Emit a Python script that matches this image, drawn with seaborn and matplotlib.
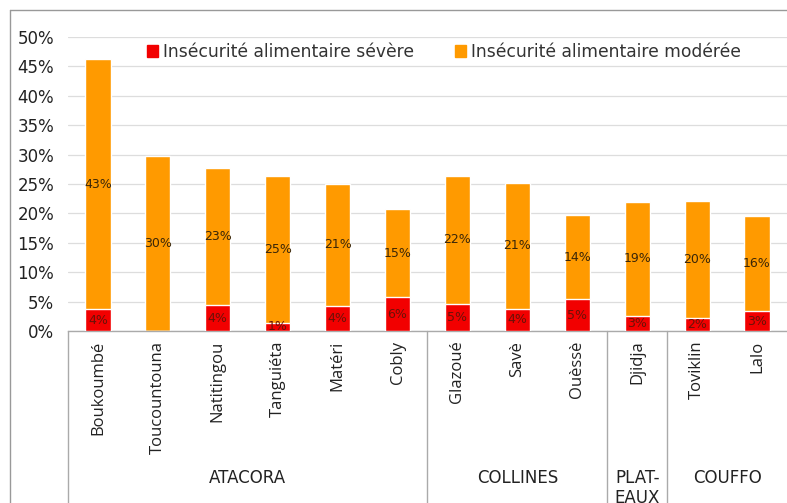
import numpy as np
import pandas as pd
import matplotlib
matplotlib.use("Agg")
import matplotlib.pyplot as plt
from matplotlib.lines import Line2D
import seaborn as sns

communes = ["Boukoumbé", "Toucountouna", "Natitingou", "Tanguiéta", "Matéri", "Cobly",
            "Glazoué", "Savè", "Ouèssè", "Djidja", "Toviklin", "Lalo"]
severe = [3.7, 0.0, 4.4, 1.4, 4.3, 5.7, 4.6, 3.8, 5.4, 2.6, 2.2, 3.4]
moderee = [42.6, 29.8, 23.4, 25.0, 20.7, 15.1, 21.8, 21.4, 14.3, 19.4, 19.9, 16.2]
departements = ["ATACORA", "COLLINES", "PLAT-\nEAUX", "COUFFO"]
dep_tailles = [6, 3, 1, 2]

label_sev = "Insécurité alimentaire sévère"
label_mod = "Insécurité alimentaire modérée"
c_sev = "#F20000"
c_mod = "#FF9A00"

df = pd.DataFrame({"commune": communes, "severe": severe, "moderee": moderee})
df["total"] = df["severe"] + df["moderee"]

sns.set_style("white")
plt.rcParams["font.family"] = ["Open Sans", "DejaVu Sans"]
large = ["DejaVu Sans"]

fig = plt.figure(figsize=(7.87, 5.03), dpi=100)
ax = fig.add_axes([68 / 787, (503 - 331) / 503, (787 - 68) / 787, 294 / 503])

sns.barplot(data=df, x="commune", y="total", color=c_mod, width=0.42,
            saturation=1, ax=ax, label=label_mod, zorder=2)
sns.barplot(data=df, x="commune", y="severe", color=c_sev, width=0.42,
            saturation=1, ax=ax, label=label_sev, zorder=3)

# étiquettes au centre des segments
for i, row in df.iterrows():
    if row["severe"] > 0:
        ax.text(i, row["severe"] / 2, f"{row['severe']:.0f}%", ha="center", va="center",
                fontsize=9, color="#6a1208", family=large, zorder=4)
    ax.text(i, row["severe"] + row["moderee"] / 2, f"{row['moderee']:.0f}%", ha="center",
            va="center", fontsize=9, color="#3a2608", family=large, zorder=4)

ax.set_ylim(0, 50)
ax.set_xlim(-0.5, len(communes) - 0.5)
ax.set_yticks(np.arange(0, 51, 5))
ax.set_yticklabels([f"{v}%" for v in range(0, 51, 5)], family=large)
ax.yaxis.grid(True, color="#DDDDDD", lw=0.9, zorder=0)
ax.set_axisbelow(True)
ax.set_xlabel("")
ax.set_ylabel("")
for s in ["top", "right", "left"]:
    ax.spines[s].set_visible(False)
ax.spines["bottom"].set_color("#AAAAAA")
ax.spines["bottom"].set_linewidth(1)
ax.tick_params(axis="y", length=0, pad=10, labelsize=12, labelcolor="#222222")
ax.tick_params(axis="x", length=0, pad=7, labelsize=12, labelcolor="#222222")
plt.setp(ax.get_xticklabels(), rotation=90, va="top", ha="center")

# séparateurs et départements sous l'axe
trans = ax.get_xaxis_transform()
bornes = np.concatenate([[0], np.cumsum(dep_tailles)]) - 0.5
for b in bornes[:-1]:
    ax.plot([b, b], [0, -0.6], transform=trans, color="#AAAAAA", lw=1, clip_on=False)
for k, dep in enumerate(departements):
    centre = (bornes[k] + bornes[k + 1]) / 2
    ax.text(centre, -0.47, dep, transform=trans, ha="center", va="top", fontsize=12,
            color="#222222", family=large, linespacing=1.15)

# légende
h = [plt.Rectangle((0, 0), 1, 1, color=c_sev), plt.Rectangle((0, 0), 1, 1, color=c_mod)]
ax.legend(h, [label_sev, label_mod], loc="center", bbox_to_anchor=(0.523, 0.949), ncol=2,
          frameon=False, prop={"family": large, "size": 12.3}, handlelength=0.65,
          handleheight=0.65, handletextpad=0.3, columnspacing=2.4, labelcolor="#333333")

# cadre extérieur
fig.add_artist(Line2D([10 / 787, 10 / 787], [0, 1 - 10 / 503], color="#999999", lw=1))
fig.add_artist(Line2D([10 / 787, 1], [1 - 10 / 503, 1 - 10 / 503], color="#999999", lw=1))

fig.savefig("out.png", dpi=100)
